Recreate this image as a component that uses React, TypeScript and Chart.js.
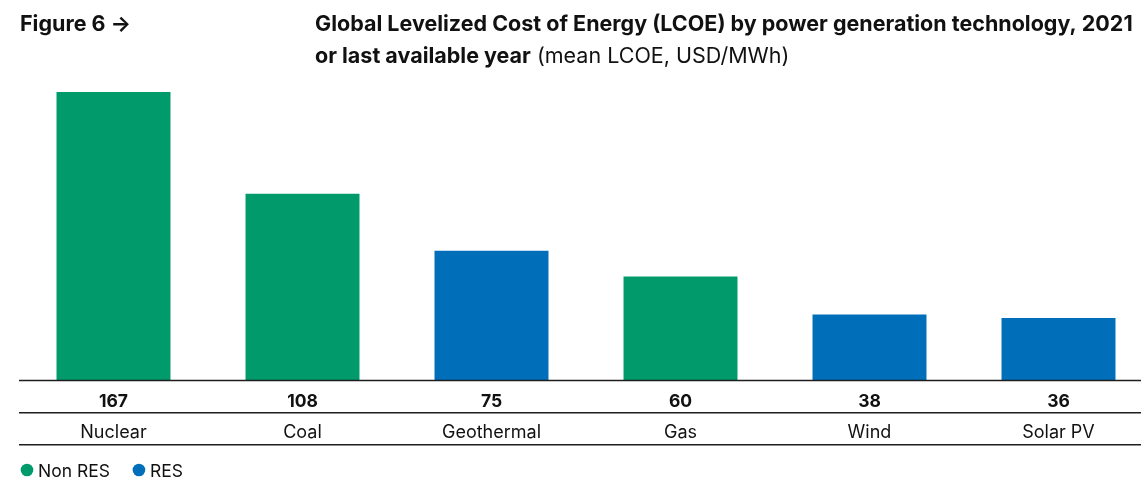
import React, { useEffect, useRef } from "react";
import { Chart, registerables } from "chart.js";

Chart.register(...registerables);

const categories = ["Nuclear", "Coal", "Geothermal", "Gas", "Wind", "Solar PV"];
const lcoeValues = [167, 108, 75, 60, 38, 36];
const isRes = [false, false, true, false, true, true];
const seriesNames = ["Non RES", "RES"];
const seriesColors = ["#009A6B", "#006EB9"];
const figureLabel = "Figure 6 \u2192";
const titleLine1 = "Global Levelized Cost of Energy (LCOE) by power generation technology, 2021";
const titleLine2Bold = "or last available year";
const titleLine2Rest = " (mean LCOE, USD/MWh)";

const FONT = "Inter, 'Noto Sans', sans-serif";

const overlayPlugin = {
  id: "overlay",
  afterDraw(chart: any) {
    const ctx = chart.ctx as CanvasRenderingContext2D;
    const x = chart.scales.x;
    const area = chart.chartArea;
    const W = chart.width;
    ctx.save();
    // rules
    ctx.strokeStyle = "#1e1e1e";
    ctx.lineWidth = 1.5;
    const rules = [area.bottom + 0.5, area.bottom + 32.8, area.bottom + 64.8];
    rules.forEach((y) => {
      ctx.beginPath();
      ctx.moveTo(area.left, y);
      ctx.lineTo(W, y);
      ctx.stroke();
    });
    // value labels and categories
    ctx.fillStyle = "#111";
    ctx.textAlign = "center";
    ctx.textBaseline = "alphabetic";
    categories.forEach((c, i) => {
      const px = x.getPixelForValue(i);
      ctx.font = `bold 17.5px ${FONT}`;
      ctx.fillText(String(lcoeValues[i]), px, area.bottom + 27);
      ctx.font = `18px ${FONT}`;
      ctx.fillText(c, px, area.bottom + 57.5);
    });
    // titles
    ctx.textAlign = "left";
    ctx.font = `bold 21.5px ${FONT}`;
    ctx.fillText(figureLabel, 20, 31);
    ctx.fillText(titleLine1, 315, 31);
    ctx.fillText(titleLine2Bold, 315, 63);
    const w2 = ctx.measureText(titleLine2Bold).width;
    ctx.font = `21.5px ${FONT}`;
    ctx.fillText(titleLine2Rest, 315 + w2, 63);
    // legend
    ctx.font = `17.5px ${FONT}`;
    let lx = 21;
    const ly = 470;
    seriesNames.forEach((n, i) => {
      ctx.fillStyle = seriesColors[i];
      ctx.beginPath();
      ctx.arc(lx + 6, ly, 6.3, 0, Math.PI * 2);
      ctx.fill();
      ctx.fillStyle = "#111";
      ctx.fillText(n, lx + 17, ly + 6.5);
      lx += 17 + ctx.measureText(n).width + 23;
    });
    ctx.restore();
  },
};

export default function App() {
  const ref = useRef<HTMLCanvasElement | null>(null);
  useEffect(() => {
    if (!ref.current) return;
    const chart = new Chart(ref.current, {
      type: "bar",
      data: {
        labels: categories,
        datasets: seriesNames.map((name, s) => ({
          label: name,
          data: lcoeValues.map((v, i) => ((isRes[i] ? 1 : 0) === s ? v : null)),
          backgroundColor: seriesColors[s],
          borderWidth: 0,
          barPercentage: 0.603,
          categoryPercentage: 1,
          grouped: false,
        })),
      },
      options: {
        responsive: false,
        animation: false,
        layout: { padding: { left: 19, right: 17, top: 92, bottom: 99 } },
        plugins: {
          legend: { display: false },
          tooltip: { enabled: false },
          title: { display: false },
        },
        scales: {
          x: { display: false, offset: true },
          y: { display: false, min: 0, max: 167 },
        },
      },
      plugins: [overlayPlugin],
    });
    return () => chart.destroy();
  }, []);
  return (
    <div
      style={{
        position: "fixed",
        left: 0,
        top: 0,
        width: 1141,
        height: 479,
        overflow: "hidden",
        background: "#fff",
      }}
    >
      <canvas ref={ref} width={1170} height={479} style={{ width: 1170, height: 479, display: "block" }} />
    </div>
  );
}
